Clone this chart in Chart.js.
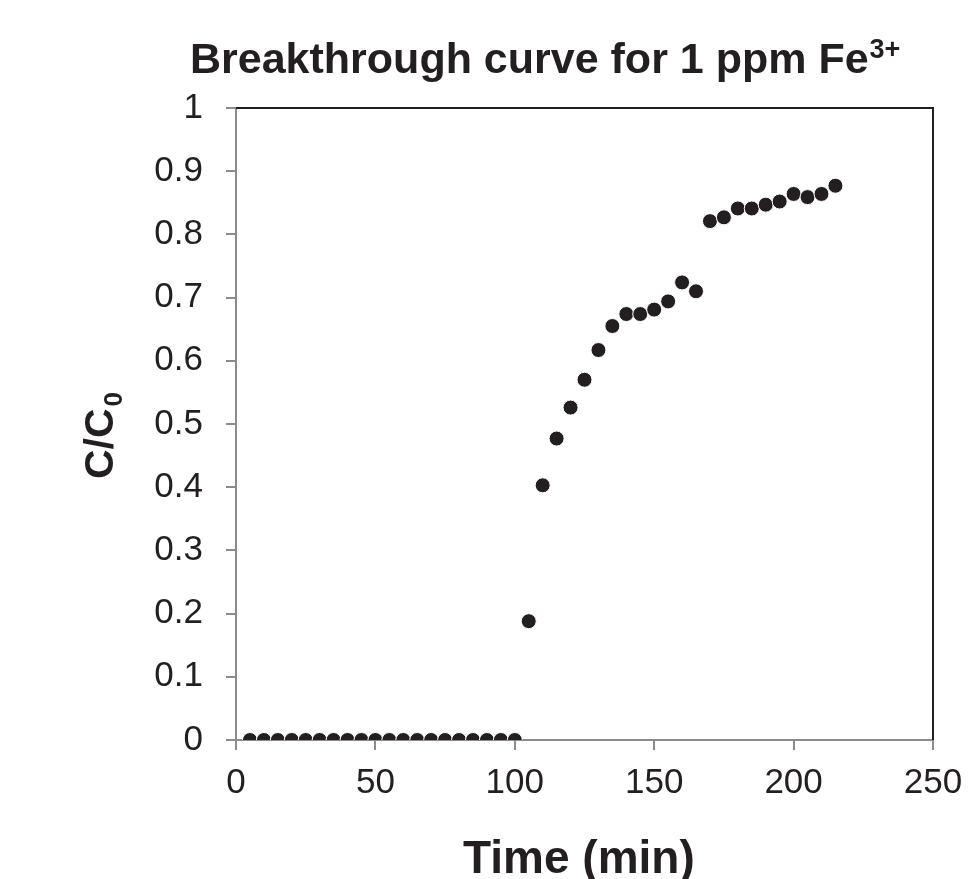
<!DOCTYPE html>
<html>
<head>
<meta charset="utf-8">
<script src="https://cdn.jsdelivr.net/npm/chart.js@4/dist/chart.umd.min.js"></script>
<style>
  html, body { margin: 0; padding: 0; background: #fff; }
  #wrap { width: 969px; height: 879px; position: relative; }
</style>
</head>
<body>
<div id="wrap"><canvas id="chart"></canvas></div>
<script>
// Breakthrough data (time in min, C/C0)
const timeMin = [5, 10, 15, 20, 25, 30, 35, 40, 45, 50, 55, 60, 65, 70, 75, 80, 85, 90, 95, 100,
                 105, 110, 115, 120, 125, 130, 135, 140, 145, 150, 155, 160, 165,
                 170, 175, 180, 185, 190, 195, 200, 205, 210, 215];
const ratio = [0, 0, 0, 0, 0, 0, 0, 0, 0, 0, 0, 0, 0, 0, 0, 0, 0, 0, 0, 0,
               0.188, 0.403, 0.477, 0.526, 0.570, 0.617, 0.655, 0.674, 0.674, 0.681, 0.694, 0.724, 0.710,
               0.821, 0.827, 0.841, 0.841, 0.847, 0.852, 0.864, 0.859, 0.864, 0.877];
const xTicks = [0, 50, 100, 150, 200, 250];
const yTicks = [0, 0.1, 0.2, 0.3, 0.4, 0.5, 0.6, 0.7, 0.8, 0.9, 1];

const FONT = '"Liberation Sans", Arial, sans-serif';
const INK = '#231f20';

const labelsPlugin = {
    id: 'labels',
    afterDraw(chart) {
        const ctx = chart.ctx;
        const a = chart.chartArea;
        ctx.save();

        // top and right frame
        ctx.strokeStyle = INK;
        ctx.lineWidth = 2;
        ctx.beginPath();
        ctx.moveTo(a.left, a.top);
        ctx.lineTo(a.right, a.top);
        ctx.lineTo(a.right, a.bottom);
        ctx.stroke();

        ctx.fillStyle = INK;
        ctx.textBaseline = 'alphabetic';
        ctx.textAlign = 'left';

        // title with superscript
        ctx.font = 'bold 43px ' + FONT;
        const main = 'Breakthrough curve for 1 ppm Fe';
        ctx.fillText(main, 190, 73);
        const w = ctx.measureText(main).width;
        ctx.font = 'bold 27px ' + FONT;
        ctx.fillText('3+', 190 + w + 1, 58);

        // x axis title
        ctx.font = 'bold 46px ' + FONT;
        ctx.fillText('Time (min)', 463, 873);

        // y axis title rotated, with subscript
        ctx.translate(113, 479);
        ctx.rotate(-Math.PI / 2);
        ctx.font = 'bold 41px ' + FONT;
        ctx.fillText('C/C', 0, 0);
        const cw = ctx.measureText('C/C').width;
        ctx.font = 'bold 26px ' + FONT;
        ctx.fillText('0', cw + 2, 9);

        ctx.restore();
    }
};

new Chart(document.getElementById('chart'), {
    type: 'scatter',
    data: {
        datasets: [{
            data: timeMin.map((t, i) => ({ x: t, y: ratio[i] })),
            backgroundColor: INK,
            borderColor: '#ffffff',
            borderWidth: 1,
            pointRadius: 7.5,
            pointHoverRadius: 7.5
        }]
    },
    options: {
        responsive: true,
        maintainAspectRatio: false,
        animation: false,
        layout: { padding: { top: 108, right: 36, left: 0, bottom: 0 } },
        plugins: { legend: { display: false }, tooltip: { enabled: false } },
        scales: {
            x: {
                type: 'linear',
                min: 0,
                max: 250,
                afterBuildTicks: s => { s.ticks = xTicks.map(v => ({ value: v })); },
                afterFit: s => { s.height = 139; s.paddingLeft = 0; s.paddingRight = 0; },
                grid: { drawOnChartArea: false, tickLength: 10, color: '#8c8c8c', lineWidth: 2 },
                border: { color: '#8c8c8c', width: 2 },
                ticks: { color: INK, font: { family: FONT, size: 35 }, padding: 12, maxRotation: 0 }
            },
            y: {
                min: 0,
                max: 1,
                afterBuildTicks: s => { s.ticks = yTicks.map(v => ({ value: v })); },
                afterFit: s => { s.width = 236; s.paddingTop = 0; s.paddingBottom = 0; },
                grid: { drawOnChartArea: false, tickLength: 10, color: '#8c8c8c', lineWidth: 2 },
                border: { color: '#8c8c8c', width: 2 },
                ticks: {
                    color: INK, font: { family: FONT, size: 35 }, padding: 23,
                    callback: v => (v === 0 || v === 1) ? String(v) : v.toFixed(1)
                }
            }
        }
    },
    plugins: [labelsPlugin]
});
</script>
</body>
</html>
